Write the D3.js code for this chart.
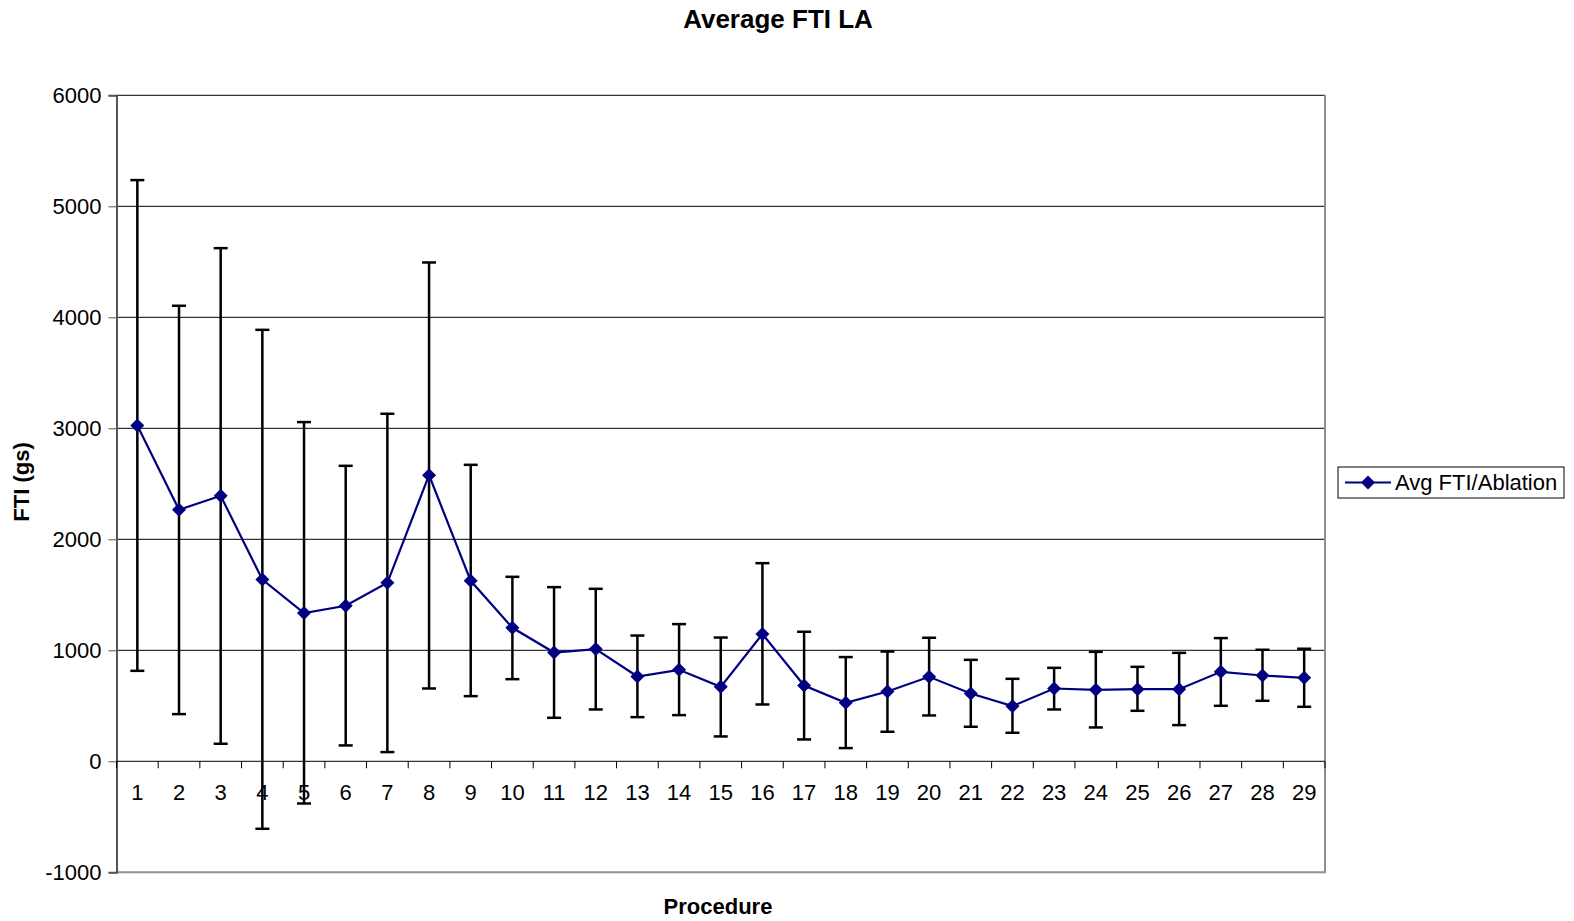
<!DOCTYPE html>
<html>
<head>
<meta charset="utf-8">
<script src="https://cdn.jsdelivr.net/npm/d3@7"></script>
<style>
  body { margin: 0; background: #fff; }
  text { font-family: "Liberation Sans", Arial, sans-serif; }
</style>
</head>
<body>
<svg id="chart" width="1574" height="921"></svg>
<script>
// data
const procedures = d3.range(1, 30);
const avgFti = [3025, 2266, 2392, 1638, 1335, 1401, 1608, 2578, 1626, 1203,
  980, 1011, 764, 824, 671, 1146, 683, 527, 629, 761,
  611, 497, 656, 644, 650, 650, 806, 773, 752];
const upper = [5236, 4104, 4623, 3887, 3056, 2662, 3131, 4494, 2671, 1662,
  1569, 1554, 1133, 1236, 1115, 1785, 1167, 939, 989, 1113,
  914, 743, 842, 986, 851, 977, 1110, 1005, 1014];
const lower = [815, 425, 158, -608, -380, 143, 83, 656, 587, 740,
  392, 467, 398, 416, 224, 512, 197, 119, 266, 413,
  311, 257, 467, 305, 455, 326, 500, 545, 491];
const yTicks = [-1000, 0, 1000, 2000, 3000, 4000, 5000, 6000];

const navy = '#000080';
const fontSize = 22;
const margin = {left: 116.5, right: 1325, top: 95.3, bottom: 872.3};

const svg = d3.select('#chart');

const x = d3.scaleBand()
    .domain(procedures)
    .range([margin.left, margin.right])
    .padding(0);

const y = d3.scaleLinear()
    .domain([-1000, 6000])
    .range([margin.bottom, margin.top]);

const cx = (d) => x(d) + x.bandwidth() / 2;

// gridlines
svg.append('g')
    .selectAll('line')
    .data(yTicks.filter((t) => t > 0))
    .enter()
    .append('line')
    .attr('x1', margin.left)
    .attr('x2', margin.right)
    .attr('y1', (d) => y(d))
    .attr('y2', (d) => y(d))
    .attr('stroke', '#000')
    .attr('stroke-width', 1);

// plot frame (grey right + bottom)
svg.append('path')
    .attr('d', `M${margin.left},${margin.bottom}H${margin.right}V${margin.top}`)
    .attr('fill', 'none')
    .attr('stroke', '#909090')
    .attr('stroke-width', 2);

// y axis
const yAxis = svg.append('g')
    .attr('transform', `translate(${margin.left},0)`)
    .call(d3.axisLeft(y).tickValues(yTicks).tickFormat((d) => String(d))
        .tickSize(8).tickPadding(7));
yAxis.select('.domain').attr('stroke', '#555').attr('stroke-width', 2);
yAxis.selectAll('.tick line').attr('stroke', '#555');
yAxis.selectAll('text')
    .attr('font-size', fontSize)
    .attr('fill', '#000')
    .style('font-family', '"Liberation Sans", Arial, sans-serif');

// x axis at zero
const y0 = y(0);
svg.append('line')
    .attr('x1', margin.left).attr('x2', margin.right)
    .attr('y1', y0).attr('y2', y0)
    .attr('stroke', '#000').attr('stroke-width', 1);
svg.append('g')
    .selectAll('line')
    .data(procedures)
    .enter()
    .append('line')
    .attr('x1', (d) => x(d))
    .attr('x2', (d) => x(d))
    .attr('y1', y0)
    .attr('y2', y0 + 7)
    .attr('stroke', '#000');
svg.append('line')
    .attr('x1', margin.right).attr('x2', margin.right)
    .attr('y1', y0).attr('y2', y0 + 7)
    .attr('stroke', '#000');
svg.append('g')
    .selectAll('text')
    .data(procedures)
    .enter()
    .append('text')
    .attr('x', cx)
    .attr('y', y0 + 39)
    .attr('text-anchor', 'middle')
    .attr('font-size', fontSize)
    .text((d) => d);

// error bars
const err = svg.append('g')
    .selectAll('g')
    .data(procedures)
    .enter()
    .append('g')
    .attr('stroke', '#000')
    .attr('stroke-width', 2.5);
err.append('line')
    .attr('x1', cx).attr('x2', cx)
    .attr('y1', (d, i) => y(upper[i]))
    .attr('y2', (d, i) => y(lower[i]));
err.append('line')
    .attr('x1', (d) => cx(d) - 7).attr('x2', (d) => cx(d) + 7)
    .attr('y1', (d, i) => y(upper[i]))
    .attr('y2', (d, i) => y(upper[i]));
err.append('line')
    .attr('x1', (d) => cx(d) - 7).attr('x2', (d) => cx(d) + 7)
    .attr('y1', (d, i) => y(lower[i]))
    .attr('y2', (d, i) => y(lower[i]));

// series line + diamonds
const line = d3.line()
    .x((d, i) => cx(procedures[i]))
    .y((d) => y(d));
svg.append('path')
    .datum(avgFti)
    .attr('d', line)
    .attr('fill', 'none')
    .attr('stroke', navy)
    .attr('stroke-width', 2.2);

// square diamond, 14px across
const diamond = 'M0,-7L7,0L0,7L-7,0Z';
svg.append('g')
    .selectAll('path')
    .data(avgFti)
    .enter()
    .append('path')
    .attr('d', diamond)
    .attr('transform', (d, i) => `translate(${cx(procedures[i])},${y(d)})`)
    .attr('fill', navy);

// titles
svg.append('text')
    .attr('x', 778).attr('y', 28)
    .attr('text-anchor', 'middle')
    .attr('font-size', 26).attr('font-weight', 'bold')
    .text('Average FTI LA');
svg.append('text')
    .attr('x', 718).attr('y', 914)
    .attr('text-anchor', 'middle')
    .attr('font-size', 22).attr('font-weight', 'bold')
    .text('Procedure');
svg.append('text')
    .attr('transform', 'translate(29,482) rotate(-90)')
    .attr('text-anchor', 'middle')
    .attr('font-size', 22).attr('font-weight', 'bold')
    .text('FTI (gs)');

// legend
const lg = svg.append('g').attr('transform', 'translate(1338,467)');
lg.append('rect')
    .attr('width', 226).attr('height', 31)
    .attr('fill', '#fff').attr('stroke', '#000');
lg.append('line')
    .attr('x1', 7).attr('x2', 53).attr('y1', 15.5).attr('y2', 15.5)
    .attr('stroke', navy).attr('stroke-width', 2);
lg.append('path')
    .attr('d', diamond)
    .attr('transform', 'translate(30,15.5)')
    .attr('fill', navy);
lg.append('text')
    .attr('x', 57).attr('y', 23)
    .attr('font-size', fontSize)
    .text('Avg FTI/Ablation');
</script>
</body>
</html>
